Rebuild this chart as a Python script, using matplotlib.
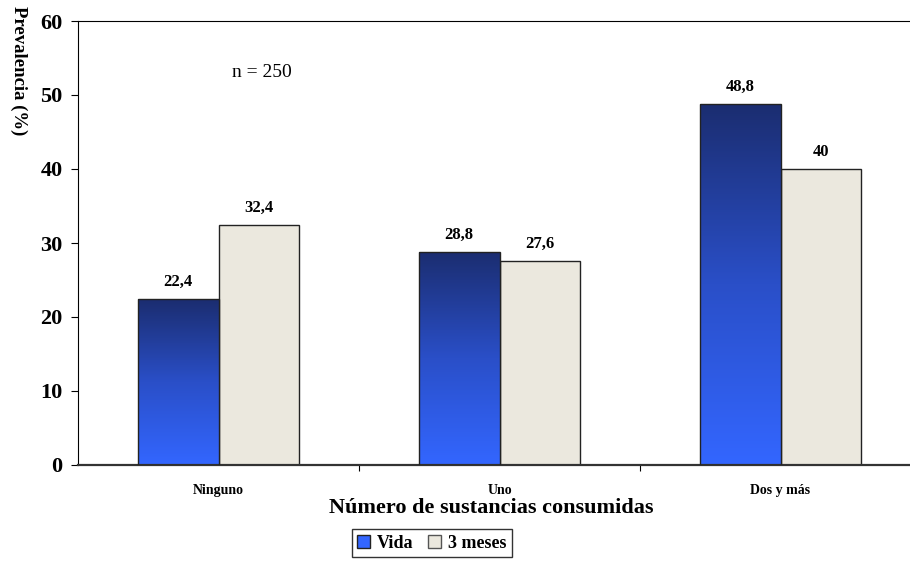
import numpy as np
import matplotlib
matplotlib.use('Agg')
import matplotlib.pyplot as plt
from matplotlib.colors import LinearSegmentedColormap
from matplotlib.patches import Patch

categorias = ['Ninguno', 'Uno', 'Dos y más']
vida = [22.4, 28.8, 48.8]
meses3 = [32.4, 27.6, 40]
etq_vida = ['22,4', '28,8', '48,8']
etq_meses = ['32,4', '27,6', '40']

plt.rcParams['font.family'] = ['Liberation Serif', 'DejaVu Serif']

fig = plt.figure(figsize=(9.1, 5.63), dpi=100)
# axis runs past the right border, as in the original
ax = fig.add_axes([78 / 910, 1 - 465 / 563, 843 / 910, 444 / 563])

x = np.arange(len(categorias))
w = 0.288
grad = LinearSegmentedColormap.from_list('g', ['#3366ff', '#2a4fc8', '#1b2d70'])

b1 = ax.bar(x - w / 2, vida, w, color='#3366ff', edgecolor='#222222', linewidth=1, zorder=2)
b2 = ax.bar(x + w / 2, meses3, w, color='#ebe8de', edgecolor='#222222', linewidth=1, zorder=2)

g = np.linspace(0, 1, 256).reshape(-1, 1)
for r in b1:
    x0, y0 = r.get_x(), r.get_y()
    im = ax.imshow(g, cmap=grad, origin='lower', aspect='auto', zorder=2.5,
                   extent=[x0, x0 + r.get_width(), y0, y0 + r.get_height()])
    im.set_clip_path(r)
    r.set_facecolor('none')
    r.set_zorder(3)

for r, t in zip(b1, etq_vida):
    ax.text(r.get_x() + r.get_width() / 2, r.get_height() + 1.2, t,
            ha='center', va='bottom', fontsize=12, fontweight='bold')
for r, t in zip(b2, etq_meses):
    ax.text(r.get_x() + r.get_width() / 2, r.get_height() + 1.2, t,
            ha='center', va='bottom', fontsize=12, fontweight='bold')

ax.set_xlim(-0.5, 2.5)
ax.set_ylim(0, 60)
ax.set_yticks(range(0, 61, 10))
ax.tick_params(axis='y', labelsize=16, length=5, direction='out', pad=6)
for lb in ax.get_yticklabels():
    lb.set_fontweight('bold')

ax.set_xticks([0.5, 1.5])
ax.set_xticklabels([])
ax.set_xticks(x, minor=True)
ax.set_xticklabels(categorias, minor=True, fontsize=10, fontweight='bold')
ax.tick_params(axis='x', which='major', length=4, direction='out')
ax.tick_params(axis='x', which='minor', length=0, pad=14)

ax.spines['bottom'].set_linewidth(1.6)
ax.spines['bottom'].set_color('#333333')
ax.spines['right'].set_visible(False)

ax.set_xlabel('Número de sustancias consumidas', fontsize=16, fontweight='bold')
ax.xaxis.set_label_coords((491 - 78) / 843, -0.075)

fig.text(0.011, 0.99, 'Prevalencia (%)', rotation=270, va='top', ha='left',
         fontsize=13.5, fontweight='bold')
ax.text(0.155, 53.1, 'n = 250', fontsize=14, ha='center', va='center')

h = [Patch(facecolor='#3366ff', edgecolor='#222222'),
     Patch(facecolor='#ebe8de', edgecolor='#555555')]
fig.legend(h, ['Vida', '3 meses'], loc='center', bbox_to_anchor=(432 / 910, 1 - 543 / 563),
           ncol=2, fancybox=False, edgecolor='black', handlelength=0.7, handleheight=0.7,
           handletextpad=0.4, columnspacing=0.8, borderpad=0.3,
           prop={'weight': 'bold', 'size': 13})

fig.savefig('out.png', dpi=100)
